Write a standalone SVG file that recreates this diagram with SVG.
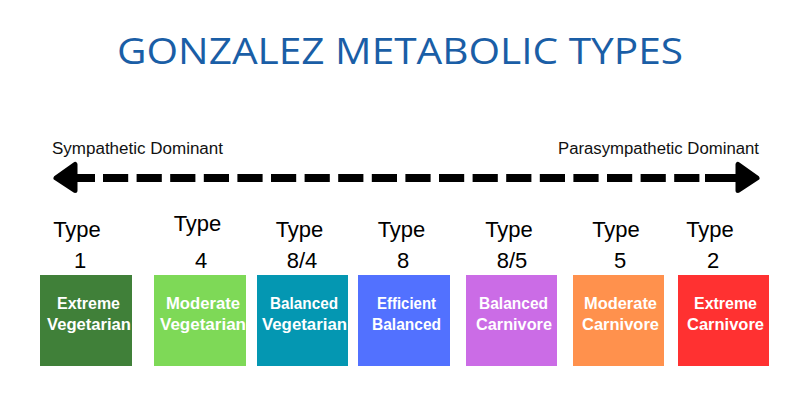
<svg xmlns="http://www.w3.org/2000/svg" width="800" height="397" viewBox="0 0 800 397">
<style>
.title{font-family:"Open Sans","Liberation Sans",sans-serif;font-weight:400;font-size:36px;fill:#1a5ea6}
.axis{font-family:"Liberation Sans",Arial,sans-serif;font-size:16px;fill:#111}
.type{font-family:"Liberation Sans",Arial,sans-serif;font-size:22px;fill:#000;text-anchor:middle}
.lbl{font-family:"Liberation Sans",Arial,sans-serif;font-weight:bold;font-size:17px;fill:#fff;text-anchor:middle}
.head{fill:#000;stroke:#000;stroke-width:5;stroke-linejoin:round}
</style>
<rect width="800" height="397" fill="#fff"/>
<text class="title" x="117" y="64" textLength="566" lengthAdjust="spacingAndGlyphs">GONZALEZ METABOLIC TYPES</text>
<text class="axis" x="52" y="154" textLength="171" lengthAdjust="spacingAndGlyphs">Sympathetic Dominant</text>
<text class="axis" x="558" y="154" textLength="201" lengthAdjust="spacingAndGlyphs">Parasympathetic Dominant</text>
<g id="connectors">
  <polygon class="head" points="56,178 75,164.5 75,190.5"/>
  <rect x="75" y="174" width="20" height="8" fill="#000"/>
  <line x1="103" y1="178" x2="736" y2="178" stroke="#000" stroke-width="8" stroke-dasharray="25.2 8.4"/>
  <rect x="705" y="174" width="32" height="8" fill="#000"/>
  <polygon class="head" points="757,178 738,164.5 738,190.5"/>
</g>
<g id="type1">
  <text class="type" x="77" y="237">Type</text>
  <text class="type" x="80" y="268">1</text>
  <rect x="40" y="275" width="92" height="91" fill="#408039"/>
  <text class="lbl" x="88.5" y="309" textLength="63" lengthAdjust="spacingAndGlyphs">Extreme</text>
  <text class="lbl" x="89" y="330" textLength="84" lengthAdjust="spacingAndGlyphs">Vegetarian</text>
</g>
<g id="type4">
  <text class="type" x="197.5" y="231">Type</text>
  <text class="type" x="201" y="268">4</text>
  <rect x="154" y="275" width="92" height="91" fill="#7ed957"/>
  <text class="lbl" x="203" y="309" textLength="74" lengthAdjust="spacingAndGlyphs">Moderate</text>
  <text class="lbl" x="203" y="330" textLength="86" lengthAdjust="spacingAndGlyphs">Vegetarian</text>
</g>
<g id="type8-4">
  <text class="type" x="299.5" y="237">Type</text>
  <text class="type" x="302" y="268">8/4</text>
  <rect x="257" y="275" width="91" height="91" fill="#0497b2"/>
  <text class="lbl" x="304" y="309" textLength="68" lengthAdjust="spacingAndGlyphs">Balanced</text>
  <text class="lbl" x="304.5" y="330" textLength="85" lengthAdjust="spacingAndGlyphs">Vegetarian</text>
</g>
<g id="type8">
  <text class="type" x="401.5" y="237">Type</text>
  <text class="type" x="403" y="268">8</text>
  <rect x="358" y="275" width="92" height="91" fill="#5271ff"/>
  <text class="lbl" x="406.5" y="309" textLength="59" lengthAdjust="spacingAndGlyphs">Efficient</text>
  <text class="lbl" x="406.5" y="330" textLength="69" lengthAdjust="spacingAndGlyphs">Balanced</text>
</g>
<g id="type8-5">
  <text class="type" x="509" y="237">Type</text>
  <text class="type" x="512" y="268">8/5</text>
  <rect x="466" y="275" width="91" height="91" fill="#cb6ce6"/>
  <text class="lbl" x="513.5" y="309" textLength="69" lengthAdjust="spacingAndGlyphs">Balanced</text>
  <text class="lbl" x="514" y="330" textLength="76" lengthAdjust="spacingAndGlyphs">Carnivore</text>
</g>
<g id="type5">
  <text class="type" x="616" y="237">Type</text>
  <text class="type" x="620" y="268">5</text>
  <rect x="573" y="275" width="91" height="91" fill="#ff914d"/>
  <text class="lbl" x="620.5" y="309" textLength="73" lengthAdjust="spacingAndGlyphs">Moderate</text>
  <text class="lbl" x="620.5" y="330" textLength="77" lengthAdjust="spacingAndGlyphs">Carnivore</text>
</g>
<g id="type2">
  <text class="type" x="710" y="237">Type</text>
  <text class="type" x="713" y="268">2</text>
  <rect x="678" y="275" width="91" height="91" fill="#ff3131"/>
  <text class="lbl" x="725.5" y="309" textLength="63" lengthAdjust="spacingAndGlyphs">Extreme</text>
  <text class="lbl" x="725.5" y="330" textLength="77" lengthAdjust="spacingAndGlyphs">Carnivore</text>
</g>
</svg>
